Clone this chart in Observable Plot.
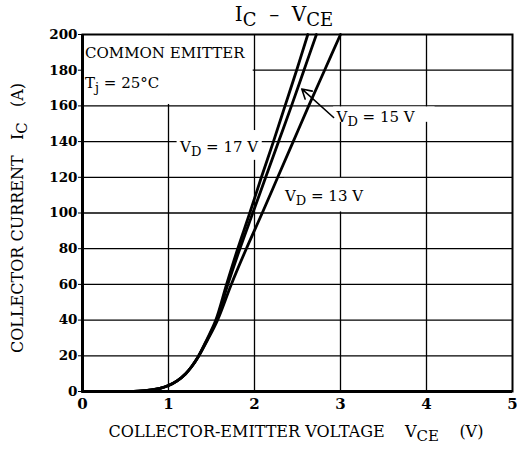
<!DOCTYPE html>
<html><head><meta charset="utf-8">
<script src="https://cdn.jsdelivr.net/npm/d3@7"></script>
<script src="https://cdn.jsdelivr.net/npm/@observablehq/plot@0.6"></script>
<style>body{margin:0;background:#fff} svg{display:block}</style>
</head><body><div id="chart"></div>
<script>
// ---- data ----
const xTicks = [0, 1, 2, 3, 4, 5];
const yTicks = [0, 20, 40, 60, 80, 100, 120, 140, 160, 180, 200];
const xGrid = [1, 2, 3, 4];
const yGrid = [20, 40, 60, 80, 100, 120, 140, 160, 180];

// shared low-current region (all three curves overlap)
const lowV = [0, 0.5, 0.65, 0.8, 0.9, 1.0, 1.1, 1.2, 1.27];
const lowI = [0, 0, 0.2, 0.9, 1.8, 3.4, 6, 10, 14];

const vd17V = [1.34, 1.445, 1.55, 1.675, 1.805, 1.945, 2.08, 2.22, 2.355, 2.49, 2.62];
const vd17I = [19, 29, 40, 60, 80, 100, 120, 140, 160, 180, 200];
const vd15V = [1.34, 1.45, 1.56, 1.69, 1.83, 1.98, 2.13, 2.28, 2.43, 2.575, 2.72];
const vd15I = [19, 29, 40, 60, 80, 100, 120, 140, 160, 180, 200];
const vd13V = [1.34, 1.455, 1.57, 1.73, 1.905, 2.09, 2.27, 2.45, 2.63, 2.815, 3.00];
const vd13I = [19, 29, 40, 60, 80, 100, 120, 140, 160, 180, 200];
const seriesNames = ["VD = 17 V", "VD = 15 V", "VD = 13 V"];

// annotations (data coordinates)
const labelMain = ["V", "V", "V"];
const labelSub = ["D", "D", "D"];
const labelRest = [" = 17 V", " = 15 V", " = 13 V"];
const labelX = [1.14, 2.96, 2.36];
const labelY = [134, 150.7, 106.7];

const boxX1 = [0.02, 1.10, 2.92, 2.35];
const boxX2 = [1.985, 2.09, 4.10, 3.35];
const boxY1 = [160.8, 129.5, 150.8, 100.6];
const boxY2 = [199.4, 146.2, 159.4, 119.4];

const arrowX1 = [2.92], arrowY1 = [153.5], arrowX2 = [2.55], arrowY2 = [169.5];

// ---- build tables ----
const rows = [];
const sets = [[vd17V, vd17I], [vd15V, vd15I], [vd13V, vd13I]];
sets.forEach(([vs, is], k) => {
  lowV.forEach((v, j) => rows.push({series: seriesNames[k], v, i: lowI[j]}));
  vs.forEach((v, j) => rows.push({series: seriesNames[k], v, i: is[j]}));
});
const boxes = boxX1.map((d, j) => ({x1: d, x2: boxX2[j], y1: boxY1[j], y2: boxY2[j]}));
const arrows = arrowX1.map((d, j) => ({x1: d, y1: arrowY1[j], x2: arrowX2[j], y2: arrowY2[j]}));

const FONT = "'DejaVu Serif', serif";

const chart = Plot.plot({
  width: 517, height: 457,
  marginTop: 34, marginBottom: 66, marginLeft: 82, marginRight: 5,
  style: {fontFamily: FONT, fontSize: "14px", background: "#fff", color: "#000"},
  x: {domain: [0, 5], label: null},
  y: {domain: [0, 200], label: null},
  marks: [
    Plot.ruleX(xGrid, {stroke: "#000", strokeWidth: 1.3}),
    Plot.ruleY(yGrid, {stroke: "#000", strokeWidth: 1.3}),
    Plot.rect(boxes, {x1: "x1", x2: "x2", y1: "y1", y2: "y2", fill: "#fff"}),
    Plot.line(rows, {x: "v", y: "i", z: "series", stroke: "#000", strokeWidth: 2.8, curve: "catmull-rom"}),
    Plot.frame({stroke: "#000", strokeWidth: 2}),
    Plot.ruleX([0], {stroke: "#000", strokeWidth: 3}),
    Plot.ruleY([0], {stroke: "#000", strokeWidth: 3}),
    Plot.arrow(arrows, {x1: "x1", y1: "y1", x2: "x2", y2: "y2", stroke: "#000", strokeWidth: 1.6, headLength: 10}),
    Plot.axisX(xTicks, {tickSize: 0, tickPadding: 7, fontSize: 15, fontWeight: "bold"}),
    Plot.axisY(yTicks, {tickSize: 4, tickPadding: 1, fontSize: 13.5, fontWeight: "bold"})
  ]
});
document.getElementById("chart").appendChild(chart);

const svg = d3.select(chart);
const sx = chart.scale("x"), sy = chart.scale("y");

function richText(parent, x, y, parts, opts = {}) {
  const t = parent.append("text")
    .attr("x", x).attr("y", y)
    .attr("font-family", FONT)
    .attr("font-size", opts.size || 16)
    .attr("fill", "#000")
    .attr("text-anchor", opts.anchor || "start")
    .style("white-space", "pre");
  if (opts.transform) t.attr("transform", opts.transform);
  if (opts.spacing) t.attr("letter-spacing", opts.spacing);
  let shifted = 0;
  parts.forEach(p => {
    const s = t.append("tspan").text(p.t);
    const want = p.sub ? (opts.subShift || 4) : 0;
    if (want !== shifted) { s.attr("dy", want - shifted); shifted = want; }
    if (p.sub) s.attr("font-size", opts.subSize || (opts.size || 16) - 2);
  });
  return t;
}

// curve labels
labelMain.forEach((m, j) => {
  richText(svg, sx.apply(labelX[j]), sy.apply(labelY[j]),
    [{t: m}, {t: labelSub[j], sub: true}, {t: labelRest[j]}], {size: 15});
});

// inset text
richText(svg, sx.apply(0.035), sy.apply(186.5), [{t: "COMMON EMITTER"}], {size: 15});
richText(svg, sx.apply(0.035), sy.apply(169.7), [{t: "T"}, {t: "j", sub: true}, {t: " = 25°C"}], {size: 15});

// title
richText(svg, 284, 21, [{t: "I"}, {t: "C", sub: true}, {t: "  \u2013  V"}, {t: "CE", sub: true}], {size: 20, subSize: 18, anchor: "middle", subShift: 5});

// x axis label
richText(svg, 296, 437, [{t: "COLLECTOR-EMITTER VOLTAGE    V"}, {t: "CE", sub: true}, {t: "    (V)"}], {size: 16, subSize: 15, anchor: "middle"});

// y axis label
richText(svg, 0, 0, [{t: "COLLECTOR CURRENT   I"}, {t: "C", sub: true}, {t: "   (A)"}],
  {size: 16, subSize: 15, anchor: "middle", transform: "translate(23,218) rotate(-90)"});
</script>
</body></html>
